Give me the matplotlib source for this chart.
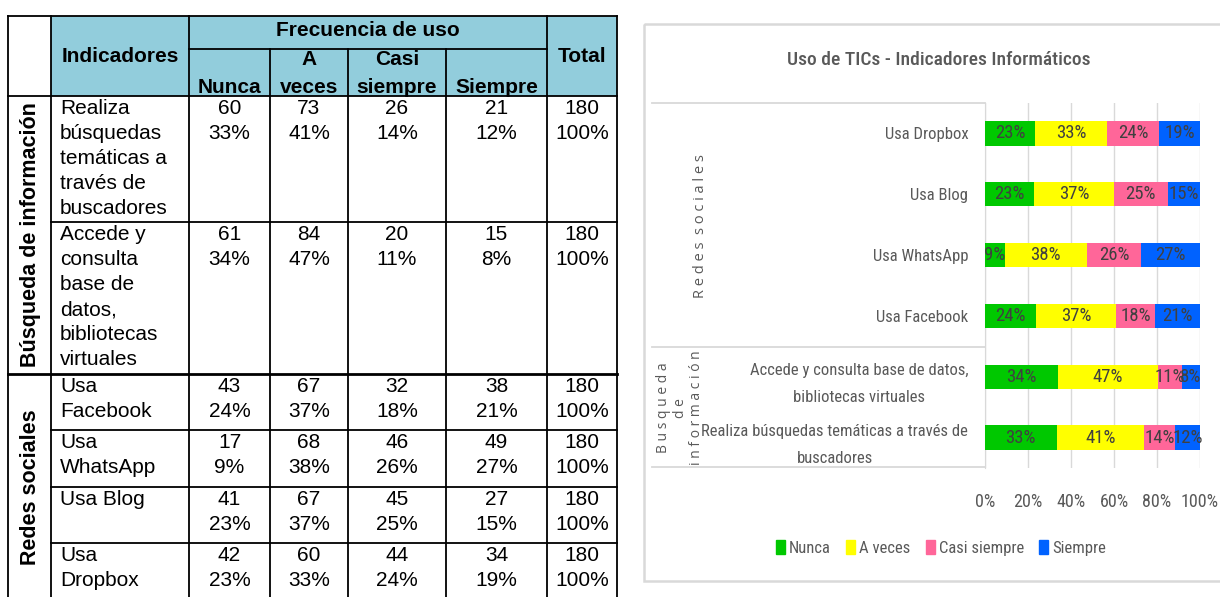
import matplotlib
matplotlib.use("Agg")
import matplotlib.pyplot as plt
from matplotlib.patches import Rectangle, Patch

# ---- data ----
indicadores = ["Realiza\nbúsquedas\ntemáticas a\ntravés de\nbuscadores",
               "Accede y\nconsulta\nbase de\ndatos,\nbibliotecas\nvirtuales",
               "Usa\nFacebook", "Usa\nWhatsApp", "Usa Blog", "Usa\nDropbox"]
chart_labels = ["Realiza búsquedas temáticas a través de\nbuscadores",
                "Accede y consulta base de datos,\nbibliotecas virtuales",
                "Usa Facebook", "Usa WhatsApp", "Usa Blog", "Usa Dropbox"]
frecuencias = ["Nunca", "A veces", "Casi siempre", "Siempre"]
nunca = [60, 61, 43, 17, 41, 42]
a_veces = [73, 84, 67, 68, 67, 60]
casi_siempre = [26, 20, 32, 46, 45, 44]
siempre = [21, 15, 38, 49, 27, 34]
pct_nunca = [33, 34, 24, 9, 23, 23]
pct_a_veces = [41, 47, 37, 38, 37, 33]
pct_casi = [14, 11, 18, 26, 25, 24]
pct_siempre = [12, 8, 21, 27, 15, 19]
totales = [180, 180, 180, 180, 180, 180]
grupos = ["Búsqueda de información", "Redes sociales"]

colores = ["#00C800", "#FFFF00", "#FF6699", "#0062FF"]
W, H = 1220, 597

fig = plt.figure(figsize=(W / 100, H / 100), dpi=100)
bg = fig.add_axes([0, 0, 1, 1])
bg.set_xlim(0, W)
bg.set_ylim(H, 0)
bg.axis("off")

# ---- table on the left ----
tfont = "Liberation Sans"
fs = 15
col_x = [8, 51, 189, 270, 348, 446, 547, 617]
top, mid, head = 16, 49, 96
row_y = [96, 222, 374, 430, 487, 543, 620]
blue = "#92CDDC"

bg.add_patch(Rectangle((51, top), 617 - 51, head - top, color=blue, lw=0))
lw = 1.3
for x in col_x:
    y0 = mid if x in col_x[3:6] else top
    bg.plot([x, x], [y0, H + 5], color="black", lw=lw)
bg.plot([8, 617], [top, top], color="black", lw=lw)
bg.plot([189, 547], [mid, mid], color="black", lw=lw)
bg.plot([8, 617], [head, head], color="black", lw=lw)
for y in row_y[1:-1]:
    x0 = 8 if y == 374 else 51
    bg.plot([x0, 617], [y, y], color="black", lw=2 if y == 374 else lw)

bg.text(368, 31, "Frecuencia de uso", ha="center", va="center", fontsize=fs,
        fontweight="bold", family=tfont)
bg.text(120, 56, "Indicadores", ha="center", va="center", fontsize=fs,
        fontweight="bold", family=tfont)
bg.text(582, 56, "Total", ha="center", va="center", fontsize=fs,
        fontweight="bold", family=tfont)
sub = ["Nunca", "A\nveces", "Casi\nsiempre", "Siempre"]
for j, s in enumerate(sub):
    cx = (col_x[j + 2] + col_x[j + 3]) / 2
    bg.text(cx, 97, s, ha="center", va="bottom", fontsize=fs, fontweight="bold",
            family=tfont, linespacing=1.6, multialignment="center")

series = [(nunca, pct_nunca), (a_veces, pct_a_veces), (casi_siempre, pct_casi),
          (siempre, pct_siempre)]
ls = 1.4
for i, lab in enumerate(indicadores):
    ty = row_y[i] + 3
    bg.text(60, ty, lab, ha="left", va="top", fontsize=fs, family=tfont,
            linespacing=ls)
    for j, (cnt, pct) in enumerate(series):
        cx = (col_x[j + 2] + col_x[j + 3]) / 2
        bg.text(cx, ty, f"{cnt[i]}\n{pct[i]}%", ha="center", va="top",
                fontsize=fs, family=tfont, linespacing=ls)
    bg.text(582, ty, f"{totales[i]}\n100%", ha="center", va="top", fontsize=fs,
            family=tfont, linespacing=ls)

bg.text(31, 235, grupos[0], rotation=90, ha="center", va="center", fontsize=15.5,
        fontweight="bold", family=tfont)
bg.text(31, 487, grupos[1], rotation=90, ha="center", va="center", fontsize=15.5,
        fontweight="bold", family=tfont)

# ---- chart on the right ----
cfont = ["Roboto Condensed", "Lato", "DejaVu Sans"]
gray = "#595959"
bg.add_patch(Rectangle((644, 24), 600, 557, fill=False, ec="#D9D9D9", lw=1.8))
bg.text(939, 60, "Uso de TICs - Indicadores Informáticos", ha="center",
        va="center", fontsize=14, color=gray, family=cfont, fontweight="medium")

x0, x1, y0, y1 = 985, 1200, 103, 468
ax = fig.add_axes([x0 / W, 1 - y1 / H, (x1 - x0) / W, (y1 - y0) / H])
ax.set_facecolor("none")
ypos = list(range(len(chart_labels)))
left = [0.0] * len(ypos)
for j, (cnt, pct) in enumerate(series):
    share = [c / t for c, t in zip(cnt, totales)]
    ax.barh(ypos, share, left=left, height=0.4, color=colores[j],
            label=frecuencias[j], zorder=3)
    for k in ypos:
        ax.text(left[k] + share[k] / 2, k, f"{pct[k]}%", ha="center",
                va="center", fontsize=13.5, color="#404040", family=cfont,
                zorder=4)
    left = [a + b for a, b in zip(left, share)]

ax.set_xlim(0, 1)
ax.set_ylim(-0.5, len(ypos) - 0.5)
ax.set_xticks([0, 0.2, 0.4, 0.6, 0.8, 1.0])
ax.set_xticklabels(["0%", "20%", "40%", "60%", "80%", "100%"], color=gray,
                   fontsize=13, family=cfont)
ax.tick_params(axis="x", length=0, pad=18)
ax.set_yticks(ypos)
ax.set_yticklabels(chart_labels, fontsize=12, color=gray, family=cfont,
                   multialignment="center", linespacing=2.0)
ax.tick_params(axis="y", length=0, pad=12)
ax.grid(axis="x", color="#D9D9D9", lw=1, zorder=0)
for s in ["top", "right", "bottom"]:
    ax.spines[s].set_visible(False)
ax.spines["left"].set_color("#D9D9D9")

# category group dividers
for y in [103, 347, 467]:
    bg.plot([652, 985], [y, y], color="#D9D9D9", lw=1.3)
gfont = ["Open Sans", "DejaVu Sans"]
bg.text(701, 226, "R e d e s  s o c i a l e s", rotation=90, ha="center",
        va="center", fontsize=10.5, color=gray, family=gfont)
bg.text(680, 408, "B u s q u e d a\nd e\ni n f o r m a c i ó n", rotation=90,
        ha="center", va="center", fontsize=10, color=gray, family=gfont,
        linespacing=1.15, multialignment="center")

handles = [Patch(color=c, label=l) for c, l in zip(colores, frecuencias)]
leg = fig.legend(handles=handles, loc="center", bbox_to_anchor=(941 / W, 1 - 548 / H),
                 ncol=4, frameon=False, handlelength=0.55, handleheight=0.85,
                 handletextpad=0.25, columnspacing=0.9,
                 prop={"family": cfont, "size": 12})
for t in leg.get_texts():
    t.set_color(gray)

fig.savefig("out.png", dpi=100)
